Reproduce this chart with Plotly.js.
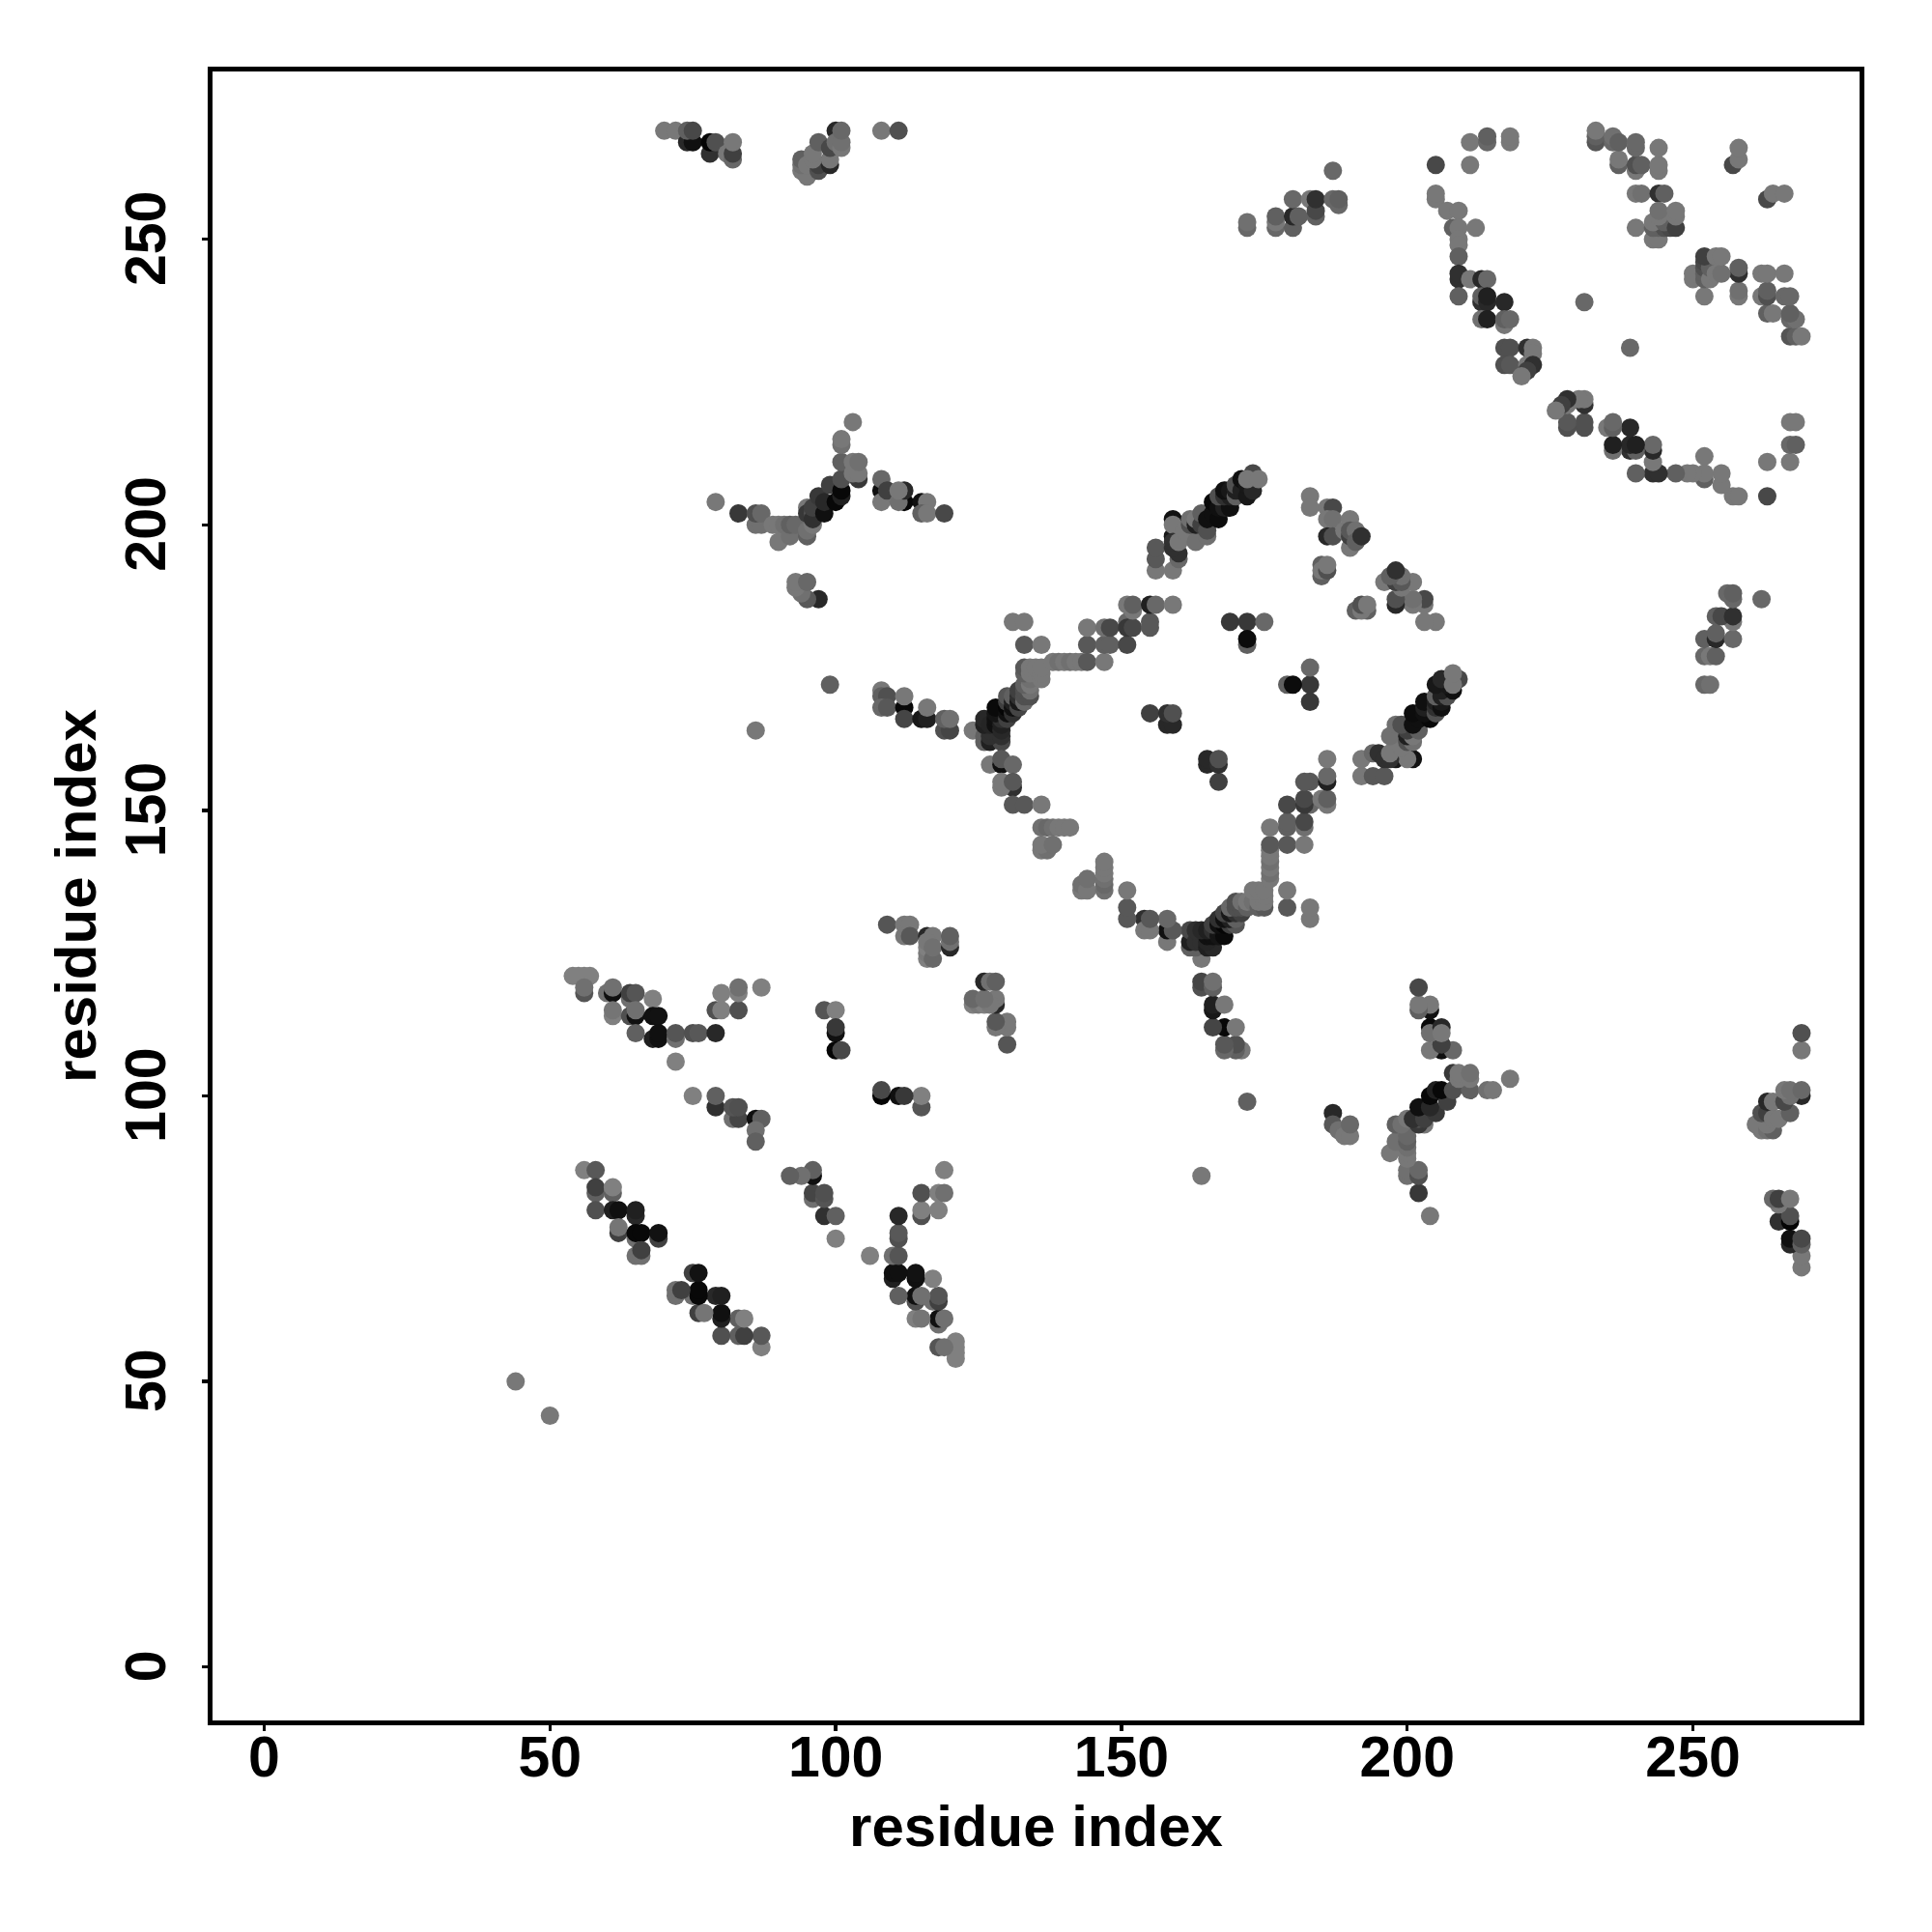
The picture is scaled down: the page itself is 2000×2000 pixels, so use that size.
<!DOCTYPE html>
<html><head><meta charset="utf-8">
<script src="https://cdn.plot.ly/plotly-3.0.1.min.js"></script>
<style>html,body{margin:0;padding:0;background:#fff}</style></head>
<body><div id="chart" style="width:2000px;height:2000px"></div>
<script>
const tickValues = [0,50,100,150,200,250];
const axisTitle = "residue index";
const isolated = [[44,50,0x78],[86,164,0x78],[99,172,0x60]];
const helixA = [[54,121,0x80],[55,121,0x80],[56,121,0x80],[57,121,0x80],[56,118,0x55],[56,119,0x70],[60,118,0x70],[61,118,0x10],[61,119,0x70],[64,117,0x70],[64,118,0x40],[65,118,0x55],[68,117,0x80],[61,114,0x80],[61,115,0x75],[64,114,0x50],[65,114,0x10],[65,115,0x70],[68,114,0x10],[69,114,0x12],[65,111,0x60],[68,110,0x20],[69,110,0x10],[69,111,0x10],[72,110,0x70],[72,111,0x55],[75,111,0x50],[76,111,0x58],[79,111,0x28],[72,106,0x80],[79,115,0x50],[80,115,0x80],[83,115,0x50],[80,118,0x80],[83,118,0x80],[83,119,0x70],[87,119,0x80]];
const helixB = [[75,100,0x80],[79,98,0x30],[79,100,0x60],[82,96,0x70],[83,96,0x45],[82,98,0x55],[83,98,0x50],[86,96,0x10],[87,96,0x60],[86,94,0x70],[86,92,0x60]];
const helixC = [[56,87,0x80],[58,87,0x58],[58,83,0x60],[58,84,0x40],[61,83,0x60],[61,84,0x80],[58,80,0x50],[61,80,0x20],[62,80,0x10],[65,79,0x28],[65,80,0x20],[62,76,0x40],[62,77,0x75],[65,75,0x70],[65,76,0x08],[66,76,0x08],[69,75,0x40],[69,76,0x12],[65,72,0x70],[66,72,0x70],[66,73,0x40]];
const helixD = [[98,115,0x55],[100,115,0x80],[100,111,0x10],[100,112,0x38],[100,108,0x05],[101,108,0x48]];
const helixE = [[109,130,0x55],[112,130,0x78],[113,130,0x78],[112,128,0x78],[113,128,0x58],[116,128,0x28],[117,128,0x78],[116,124,0x80],[116,125,0x78],[116,126,0x80],[116,127,0x78],[117,124,0x68],[117,126,0x70],[120,126,0x28],[120,127,0x70],[120,128,0x60]];
const strandA = [[79,204,0x78],[83,202,0x38],[86,200,0x70],[87,200,0x70],[86,202,0x50],[87,202,0x68],[89,200,0x78],[90,200,0x78],[90,197,0x78],[91,200,0x70],[92,198,0x70],[92,200,0x60],[93,200,0x68],[95,198,0x60],[95,199,0x70],[96,200,0x78],[95,203,0x78],[95,202,0x38],[96,202,0x50],[96,201,0x30],[96,203,0x40],[97,205,0x38],[98,202,0x10],[98,204,0x28],[99,207,0x40],[100,204,0x08],[101,205,0x20],[101,206,0x08],[101,208,0x50],[101,211,0x60],[101,214,0x70],[101,215,0x78],[103,218,0x78],[104,208,0x38],[103,209,0x78],[104,209,0x78],[103,211,0x78],[104,211,0x70]];
const strandB = [[108,206,0x10],[108,204,0x78],[108,208,0x68],[109,206,0x40],[112,204,0x08],[111,204,0x70],[112,206,0x28],[111,206,0x78],[115,204,0x10],[116,204,0x78],[115,202,0x60],[116,202,0x78],[119,202,0x48]];
const strandC = [[97,187,0x28],[95,187,0x58],[94,188,0x70],[93,189,0x78],[93,190,0x78],[95,190,0x68]];
const strandD = [[108,171,0x78],[108,170,0x60],[109,170,0x50],[108,168,0x68],[109,168,0x58],[112,168,0x08],[112,170,0x78],[112,166,0x45],[115,166,0x18],[116,166,0x20],[116,168,0x78],[119,164,0x50],[120,164,0x45],[119,166,0x60],[120,166,0x70]];
const terminalA = [[70,269,0x78],[72,269,0x78],[74,267,0x28],[75,267,0x10],[74,269,0x60],[75,269,0x48],[78,265,0x30],[78,267,0x05],[79,267,0x50],[81,265,0x78],[82,264,0x68],[82,265,0x40],[82,267,0x78]];
const terminalB = [[94,262,0x78],[95,261,0x78],[94,263,0x70],[94,264,0x60],[95,263,0x78],[97,262,0x50],[97,263,0x40],[96,264,0x78],[96,265,0x78],[97,267,0x60],[99,263,0x28],[99,264,0x78],[99,266,0x48],[100,269,0x28],[100,267,0x70],[101,266,0x78],[101,267,0x70],[101,269,0x68],[108,269,0x78],[111,269,0x50]];
const cornerLeft = [[124,164,0x78],[126,162,0x60],[126,163,0x60],[127,162,0x20],[129,162,0x48],[127,158,0x78],[129,158,0x10],[129,159,0x58],[131,158,0x68],[131,154,0x30],[129,154,0x78],[129,155,0x78],[131,155,0x58],[131,151,0x58],[133,151,0x58],[136,151,0x78],[127,163,0x30],[128,164,0x28],[127,164,0x30],[126,165,0x20],[126,166,0x28],[127,165,0x25],[128,165,0x10],[128,166,0x10],[129,163,0x30],[129,164,0x28],[129,165,0x20],[129,166,0x30],[128,167,0x15],[129,167,0x15],[128,168,0x0a],[130,166,0x40],[130,167,0x10],[130,168,0x05],[130,169,0x40],[130,170,0x55],[131,167,0x30],[131,168,0x10],[131,169,0x20],[131,170,0x60],[132,168,0x45],[132,169,0x18],[132,170,0x30],[132,171,0x40],[133,169,0x68],[133,170,0x50],[133,171,0x50],[134,170,0x50],[134,171,0x70],[133,172,0x60],[134,172,0x78],[134,173,0x70],[133,174,0x60],[133,175,0x58],[134,174,0x78],[134,175,0x78],[135,175,0x78],[136,173,0x78],[136,174,0x78],[136,175,0x78]];
const edgeLeft = [[136,143,0x78],[137,143,0x70],[136,144,0x78],[138,144,0x70],[136,147,0x70],[137,147,0x68],[138,147,0x70],[139,147,0x78],[140,147,0x78],[141,147,0x78]];
const edgeTop = [[131,183,0x78],[133,183,0x78],[133,179,0x58],[136,179,0x78],[138,176,0x78],[139,176,0x70],[140,176,0x78],[141,176,0x70],[142,176,0x78],[143,176,0x78],[144,176,0x58],[147,176,0x78],[144,179,0x58],[147,179,0x60],[148,179,0x60],[151,179,0x48],[144,182,0x78],[147,182,0x70],[148,182,0x48],[151,183,0x68],[151,182,0x38],[152,182,0x48],[155,183,0x58],[155,182,0x58],[151,186,0x78],[152,185,0x78],[152,186,0x60],[155,186,0x20],[156,186,0x68],[159,186,0x78]];
const cornerTop = [[156,192,0x78],[156,194,0x58],[156,196,0x58],[159,192,0x78],[160,194,0x68],[160,195,0x30],[159,196,0x30],[159,198,0x18],[159,201,0x12],[159,200,0x78],[159,197,0x30],[160,197,0x78],[161,199,0x78],[163,197,0x70],[165,198,0x70],[162,200,0x50],[162,201,0x70],[163,200,0x20],[163,201,0x78],[164,200,0x40],[164,202,0x60],[165,199,0x50],[165,201,0x10],[166,202,0x10],[167,201,0x0c],[166,204,0x08],[167,203,0x10],[168,203,0x20],[169,203,0x10],[167,205,0x50],[168,205,0x30],[169,205,0x20],[168,206,0x10],[169,206,0x18],[170,205,0x60],[170,206,0x20],[170,207,0x50],[171,206,0x20],[171,208,0x10],[172,205,0x18],[172,207,0x18],[173,206,0x28],[173,209,0x48],[172,208,0x78],[174,208,0x78]];
const innerCore = [[155,167,0x40],[158,165,0x28],[159,165,0x28],[158,167,0x30],[159,167,0x50],[169,183,0x38],[172,183,0x38],[175,183,0x68],[172,179,0x60],[172,180,0x0c]];
const nearDiagonal = [[183,205,0x78],[183,203,0x78],[186,203,0x78],[187,203,0x48],[186,201,0x78],[187,201,0x70],[186,198,0x28],[187,198,0x50],[189,199,0x78],[190,201,0x78],[190,196,0x78],[190,198,0x40],[190,199,0x58],[191,199,0x70],[191,197,0x60],[192,198,0x30],[185,191,0x60],[185,193,0x60],[185,192,0x78],[186,192,0x50],[186,193,0x78]];
const arcFar = [[172,252,0x68],[172,253,0x70],[177,252,0x68],[177,253,0x78],[177,254,0x60],[180,252,0x60],[180,254,0x28],[181,254,0x60],[180,257,0x68],[183,257,0x78],[184,254,0x60],[184,255,0x48],[184,257,0x30],[187,257,0x68],[188,256,0x68],[188,257,0x60],[187,262,0x68]];
const arcTop = [[205,263,0x48],[211,263,0x78],[211,267,0x78],[214,267,0x68],[214,268,0x60],[218,267,0x78],[218,268,0x78],[205,257,0x78],[205,258,0x78],[207,255,0x78],[209,255,0x78],[208,252,0x60],[209,252,0x78],[212,252,0x78],[209,250,0x78],[209,249,0x78],[209,247,0x60],[209,243,0x30],[209,244,0x30],[211,243,0x78],[213,243,0x28],[214,243,0x68],[209,240,0x60],[213,239,0x30],[213,240,0x60],[214,239,0x28],[214,240,0x20],[217,239,0x28],[213,236,0x70],[214,236,0x20],[217,235,0x78],[217,236,0x60],[218,236,0x68],[217,231,0x50],[218,231,0x50],[221,231,0x30],[222,231,0x78],[222,230,0x78],[217,228,0x50],[218,228,0x58],[221,228,0x78],[222,228,0x30],[221,227,0x40],[220,226,0x78],[231,239,0x68]];
const arcInner = [[233,267,0x55],[233,268,0x60],[233,269,0x78],[236,267,0x68],[236,268,0x70],[237,263,0x60],[237,264,0x78],[237,267,0x60],[240,262,0x78],[240,263,0x50],[240,266,0x68],[240,267,0x68],[241,263,0x60],[244,262,0x78],[244,263,0x78],[244,266,0x78],[240,258,0x78],[241,258,0x70],[244,258,0x30],[245,258,0x60],[240,252,0x78],[243,250,0x78],[244,250,0x78],[243,252,0x60],[244,252,0x60],[245,252,0x50],[246,252,0x48],[243,253,0x78],[245,253,0x60],[245,254,0x60],[247,252,0x40],[244,254,0x78],[244,255,0x70],[247,254,0x78],[247,255,0x78],[257,263,0x48],[258,264,0x78],[258,266,0x78]];

const clusters = [isolated,helixA,helixB,helixC,helixD,helixE,strandA,strandB,strandC,strandD,terminalA,terminalB,cornerLeft,edgeLeft,edgeTop,cornerTop,innerCore,nearDiagonal,arcFar,arcTop,arcInner];
const contacts = clusters.flat();
const residueX = contacts.map(c=>c[0]).concat(contacts.map(c=>c[1]));
const residueY = contacts.map(c=>c[1]).concat(contacts.map(c=>c[0]));
const greys = contacts.concat(contacts).map(c=>`rgb(${c[2]},${c[2]},${c[2]})`);

const axisBase = {
  tickmode:"array", tickvals:tickValues, ticktext:tickValues.map(String),
  ticks:"outside", ticklen:6, tickwidth:3.5, tickcolor:"#000",
  showline:true, mirror:true, linewidth:5, linecolor:"#000",
  showgrid:false, zeroline:false, automargin:false,
  tickfont:{family:"Liberation Sans",size:59,color:"#000",weight:700}
};
Plotly.newPlot("chart",[{
  type:"scatter",mode:"markers",x:residueX,y:residueY,
  marker:{size:19,color:greys,opacity:1,line:{width:0}},hoverinfo:"skip"
}],{
  width:2000,height:2000,paper_bgcolor:"#fff",plot_bgcolor:"#fff",showlegend:false,
  margin:{l:219.5,r:74.5,t:73.5,b:218.5,pad:0},
  xaxis:Object.assign({},axisBase,{range:[-9.04,279.15],ticklabelstandoff:-24,
    title:{text:axisTitle,standoff:20,font:{family:"Liberation Sans",size:60,color:"#000",weight:700}}}),
  yaxis:Object.assign({},axisBase,{range:[-9.35,279.38],tickangle:-90,ticklabelstandoff:14,ticklabelshift:8,
    title:{text:axisTitle,standoff:1,font:{family:"Liberation Sans",size:60,color:"#000",weight:700}}})
},{staticPlot:true,displayModeBar:false});
</script></body></html>
